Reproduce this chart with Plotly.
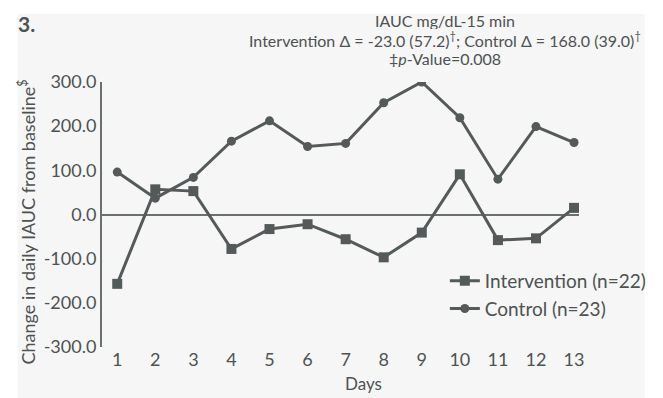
import plotly.graph_objects as go

days = list(range(1, 14))
intervention = [-157, 57, 53, -78, -33, -22, -56, -97, -41, 91, -58, -54, 15]
control = [96, 37, 84, 166, 212, 154, 161, 253, 300, 219, 80, 199, 163]
y_ticks = [300, 200, 100, 0, -100, -200, -300]
y_ticklabels = [f"{v:.1f}" for v in y_ticks]

LINE = "#545a5a"
TEXT = "#4d5252"
BG = "#f6f6f6"
FONT = "Lato, Open Sans, sans-serif"

fig = go.Figure()
fig.add_trace(go.Scatter(
    x=days, y=intervention, mode="lines+markers", name="Intervention (n=22)",
    line=dict(color=LINE, width=3), marker=dict(symbol="square", size=10, color=LINE),
))
fig.add_trace(go.Scatter(
    x=days, y=control, mode="lines+markers", name="Control (n=23)",
    line=dict(color=LINE, width=3), marker=dict(symbol="circle", size=9, color=LINE),
))

# page body has an 8px margin; work in screen pixels and convert
OFF = 8
W, H = 663 - OFF, 398 - OFF
PL, PR, PT, PB = 102, 582, 82, 347  # plot area in screen pixels
L, R, T, B = PL - OFF, W - (PR - OFF), PT - OFF, H - (PB - OFF)
pw, ph = W - L - R, H - T - B

def px(xs):
    return (xs - PL) / pw

def py(ys):
    return (PB - ys) / ph

fig.add_shape(type="rect", xref="paper", yref="paper", x0=px(17), x1=px(648), y0=py(410), y1=py(14),
              fillcolor=BG, line=dict(width=0), layer="below")

fig.add_annotation(xref="paper", yref="paper", x=px(15), y=py(23), xanchor="left", yanchor="middle",
                   text="<b>3.</b>", showarrow=False, font=dict(size=21, color=TEXT, family=FONT))
title_lines = ["IAUC mg/dL-15 min",
               "Intervention Δ = -23.0 (57.2)<sup>†</sup>; Control Δ = 168.0 (39.0)<sup>†</sup>",
               "‡<i>p</i>-Value=0.008"]
for t, yy, hh in zip(title_lines, [20, 39, 58], [17, 19, 18]):
    fig.add_annotation(xref="paper", yref="paper", x=px(447), y=py(yy), xanchor="center", yanchor="middle",
                       text=t, showarrow=False, height=hh, borderpad=0,
                       font=dict(size=16, color=TEXT, family=FONT))

fig.add_annotation(xref="paper", yref="paper", x=px(365), y=py(383), xanchor="center", yanchor="middle",
                   text="Days", showarrow=False, font=dict(size=17, color=TEXT, family=FONT))
fig.add_annotation(xref="paper", yref="paper", x=px(27), y=py(222), xanchor="center", yanchor="middle",
                   text="Change in daily IAUC from baseline<sup>$</sup>", textangle=-90, showarrow=False,
                   font=dict(size=18, color=TEXT, family=FONT))

fig.update_layout(
    width=W, height=H, margin=dict(l=L, r=R, t=T, b=B),
    paper_bgcolor="white", plot_bgcolor=BG,
    font=dict(family=FONT, color=TEXT, size=18),
    showlegend=True,
    legend=dict(x=px(447), y=py(262), xanchor="left", yanchor="top", bgcolor="rgba(0,0,0,0)",
                font=dict(size=19, color=TEXT, family=FONT), itemwidth=30),
)
fig.update_xaxes(range=[0.6, 13.13], tickvals=days, ticktext=[str(d) for d in days], showgrid=False,
                 zeroline=False, showline=False, ticks="", tickfont=dict(size=18), automargin=False)
fig.update_yaxes(range=[-300, 300], tickvals=y_ticks, ticktext=y_ticklabels, showgrid=False,
                 zeroline=True, zerolinecolor="#6a6f6f", zerolinewidth=1.5,
                 showline=True, linecolor="#6a6f6f", linewidth=2, ticks="", tickfont=dict(size=18),
                 automargin=False)

fig.write_html("out.html")
